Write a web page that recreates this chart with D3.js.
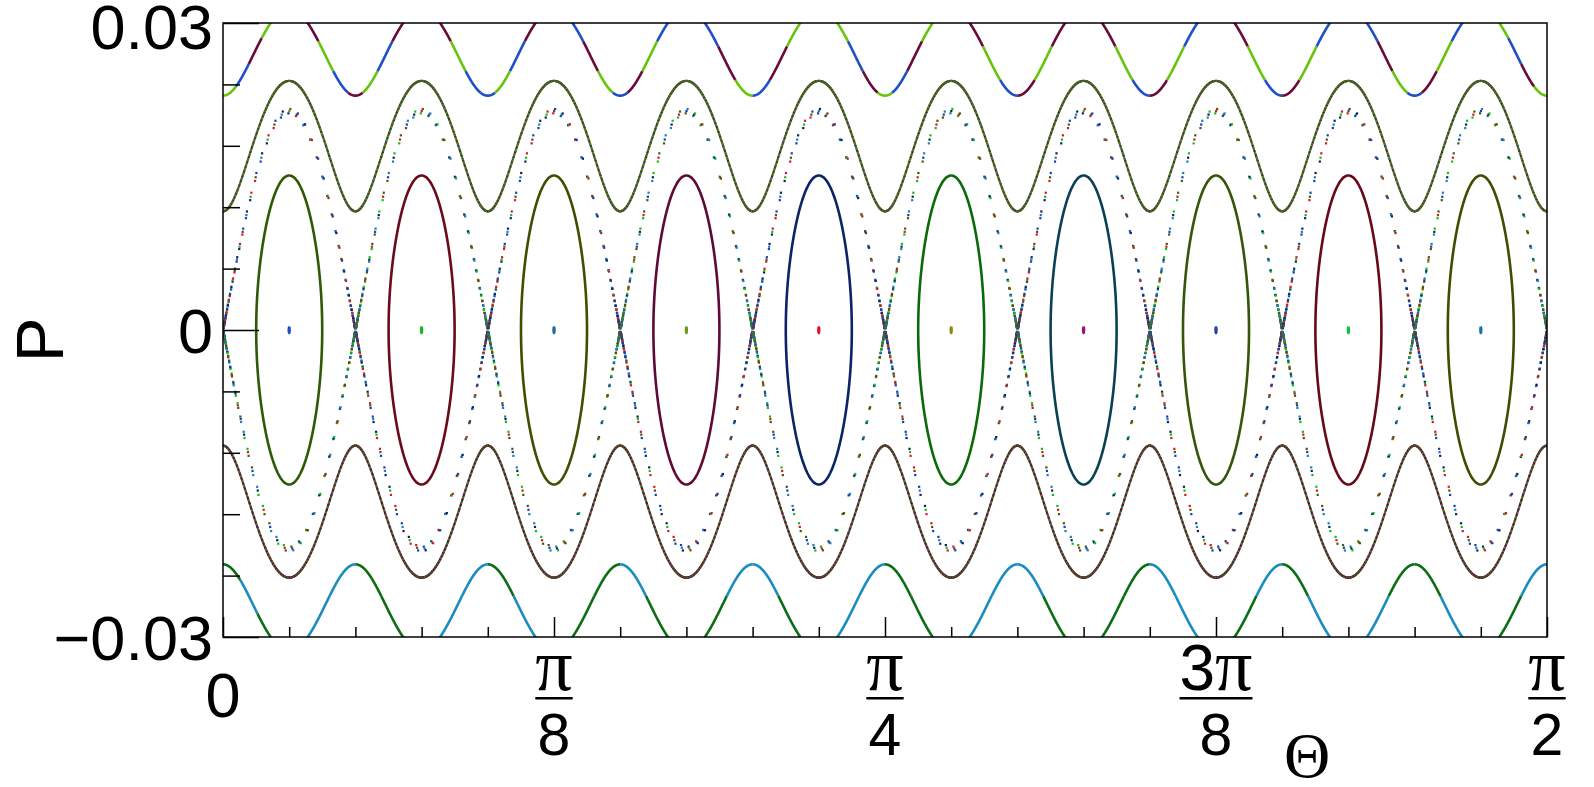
<!DOCTYPE html>
<html>
<head>
<meta charset="utf-8">
<script src="https://cdn.jsdelivr.net/npm/d3@7"></script>
<style>
  html, body { margin: 0; padding: 0; background: #fff; }
  svg { display: block; }
  text { font-family: "Liberation Sans", Arial, sans-serif; fill: #000; }
  .sym { font-family: "Liberation Serif", "DejaVu Serif", serif; }
</style>
</head>
<body>
<svg id="chart"></svg>
<script>
// values
var thetaDomain = [0, Math.PI / 2];
var pDomain = [-0.03, 0.03];
var yTickValues = [-0.03, 0, 0.03];
var xTickValues = [0, Math.PI / 8, Math.PI / 4, 3 * Math.PI / 8, Math.PI / 2];
var xTickNumerators = ['0', 'π', 'π', '3π', 'π'];
var xTickDenominators = ['', '8', '4', '8', '2'];

// island centres in units of pi/40 (O-points), X-points sit halfway between
var islandCentres = [1, 3, 5, 7, 9, 11, 13, 15, 17, 19];
var ellipseColors = ['#2f5a05', '#6a0a1a', '#3d5000', '#5e0a35', '#0a2565',
                     '#0a6a0a', '#0a4055', '#35560a', '#680818', '#3f4d00'];
var centreColors = ['#1a50c0', '#20b020', '#1a6aa0', '#6a9a20', '#e01030',
                    '#8a8a10', '#a01070', '#2040b0', '#10c040', '#1a70b0'];

var separatrixAmp = 0.0214;   // P of the separatrix above an O-point
var ellipseAmp = 0.0151;      // P at the top of the closed orbits
var centreAmp = 0.0003;       // tiny orbits at the centres

// rotating orbits, given by P where they cross an X-point
var outerLevel = 0.0229;
var innerLevelTop = 0.0116;
var innerLevelBottom = -0.0113;

var topPalette = { b: '#1f4fc8', m: '#6a0a3a', l: '#66c40a' };
var topArcColors = [
  ['l', 'b', 'm', 'l'],
  ['m', 'l', 'b', 'm', 'l', 'b', 'm'],
  ['m', 'l', 'b', 'b', 'l', 'b', 'm'],
  ['b', 'm', 'l', 'b', 'm', 'l', 'b'],
  ['b', 'm', 'l', 'b', 'm', 'l'],
  ['l', 'b', 'm', 'l', 'b', 'm', 'l'],
  ['m', 'l', 'b', 'm', 'l', 'm'],
  ['m', 'l', 'b', 'm', 'l', 'b'],
  ['m', 'l', 'b', 'm', 'l', 'b'],
  ['b', 'm', 'l', 'b', 'm', 'l', 'b'],
  ['l', 'b', 'm', 'l']
];

var bottomPalette = { g: '#0b6e14', t: '#1a8cc0' };
var bottomArcColors = [
  ['g', 't', 'g'],
  ['t', 't', 'g', 'g'],
  ['t', 't', 'g', 't'],
  ['g', 'g', 't', 'g'],
  ['g', 't', 't', 'g'],
  ['t', 't', 'g', 'g'],
  ['t', 't', 't', 'g'],
  ['g', 'g', 't', 't'],
  ['g', 't', 'g', 't'],
  ['t', 'g', 'g', 't'],
  ['g', 't']
];

var innerTopColors = ['#4a5500', '#1a88b0', '#5a1020', '#2e5e00', '#8a8a00'];
var innerBottomColors = ['#6a0030', '#c01070', '#3c9a00', '#2a5a00', '#1a3a60'];
var separatrixColors = ['#102060', '#10c010', '#e01030', '#4a5a00', '#1040c0', '#1a80b0'];

var width = 1594;
var height = 787;
var plot = { left: 223, right: 1547, top: 23, bottom: 637 };

var svg = d3.select('#chart').attr('width', width).attr('height', height);

var x = d3.scaleLinear().domain(thetaDomain).range([plot.left, plot.right]);
var y = d3.scaleLinear().domain(pDomain).range([plot.bottom, plot.top]);

svg.append('clipPath').attr('id', 'frame-clip')
  .append('rect')
  .attr('x', plot.left).attr('y', plot.top)
  .attr('width', plot.right - plot.left).attr('height', plot.bottom - plot.top);

var marks = svg.append('g').attr('clip-path', 'url(#frame-clip)');

// pendulum angle phi = 40 theta - pi
var thetaOf = function(phi) { return (phi + Math.PI) / 40; };
var phiMin = -Math.PI;
var phiMax = 19 * Math.PI;

var rotatingP = function(level, phi) {
  var c = Math.cos(phi / 2);
  var p = Math.sqrt(level * level + separatrixAmp * separatrixAmp * c * c);
  return level < 0 ? -p : p;
};

var line = d3.line().x(function(d) { return x(d[0]); }).y(function(d) { return y(d[1]); });

// closed orbits around each O-point
var closedOrbit = function(centre, amp, n) {
  var k = amp / separatrixAmp;
  var phiC = (centre - 1) * Math.PI;
  return d3.range(n + 1).map(function(i) {
    var psi = 2 * Math.PI * i / n;
    var phi = phiC + 2 * Math.asin(k * Math.sin(psi));
    return [thetaOf(phi), separatrixAmp * k * Math.cos(psi)];
  });
};

marks.selectAll('path.ellipse')
  .data(islandCentres)
  .enter().append('path')
  .attr('class', 'ellipse')
  .attr('d', function(c) { return line(closedOrbit(c, ellipseAmp, 240)); })
  .attr('fill', 'none')
  .attr('stroke', function(c, i) { return ellipseColors[i]; })
  .attr('stroke-width', 2.6);

// separatrix, sampled evenly in time so dots bunch up near X-points
var sepDots = [];
var dt = 0.18;
var offsets = [-0.02, 0, 0.025];
islandCentres.forEach(function(c, ci) {
  var phiC = (c - 1) * Math.PI;
  [1, -1].forEach(function(sign, si) {
    for (var k = -30; k <= 30; k++) {
      offsets.forEach(function(o, oi) {
        var t = k * dt + o + (si ? 0.07 : 0);
        var phi = phiC + 4 * Math.atan(Math.exp(t)) - Math.PI;
        var p = sign * separatrixAmp / Math.cosh(t) * (1 + (oi - 1) * 0.01);
        sepDots.push({ theta: thetaOf(phi), p: p, color: separatrixColors[(k * 2 + oi + ci + si * 3 + 60) % separatrixColors.length] });
      });
    }
  });
});

marks.selectAll('rect.sep')
  .data(sepDots)
  .enter().append('rect')
  .attr('class', 'sep')
  .attr('x', function(d) { return x(d.theta) - 1; })
  .attr('y', function(d) { return y(d.p) - 1; })
  .attr('width', 2.2).attr('height', 2.2)
  .attr('fill', function(d) { return d.color; });

// rotating orbits just outside the separatrix
var innerDots = function(level, colors, n) {
  return d3.range(n + 1).map(function(i) {
    var phi = phiMin + (phiMax - phiMin) * i / n;
    return { theta: thetaOf(phi), p: rotatingP(level, phi), color: colors[i % colors.length] };
  });
};

var rotDots = innerDots(innerLevelTop, innerTopColors, 4200)
  .concat(innerDots(innerLevelBottom, innerBottomColors, 4200));

marks.selectAll('rect.rot')
  .data(rotDots)
  .enter().append('rect')
  .attr('class', 'rot')
  .attr('x', function(d) { return x(d.theta) - 1; })
  .attr('y', function(d) { return y(d.p) - 1; })
  .attr('width', 2).attr('height', 2)
  .attr('fill', function(d) { return d.color; });

// outer rotating orbits, drawn arc by arc around each X-point
var outerSegments = function(level, arcColors, palette) {
  var segs = [];
  arcColors.forEach(function(colors, j) {
    var phiX = -Math.PI + 2 * Math.PI * j;
    var pts = [];
    for (var i = 0; i <= 400; i++) {
      var phi = phiX - Math.PI + 2 * Math.PI * i / 400;
      if (phi < phiMin || phi > phiMax) continue;
      var p = rotatingP(level, phi);
      if (Math.abs(p) > 0.0305) continue;
      pts.push([thetaOf(phi), p]);
    }
    var n = colors.length;
    colors.forEach(function(key, ci) {
      var a = Math.floor(pts.length * ci / n);
      var b = Math.min(pts.length - 1, Math.floor(pts.length * (ci + 1) / n));
      segs.push({ points: pts.slice(a, b + 1), color: palette[key] });
    });
  });
  return segs;
};

var outerSegs = outerSegments(outerLevel, topArcColors, topPalette)
  .concat(outerSegments(-outerLevel, bottomArcColors, bottomPalette));

marks.selectAll('path.outer')
  .data(outerSegs)
  .enter().append('path')
  .attr('class', 'outer')
  .attr('d', function(d) { return line(d.points); })
  .attr('fill', 'none')
  .attr('stroke', function(d) { return d.color; })
  .attr('stroke-width', 2.6);

// tiny orbits at the centres
marks.selectAll('path.centre')
  .data(islandCentres)
  .enter().append('path')
  .attr('class', 'centre')
  .attr('d', function(c) { return line(closedOrbit(c, centreAmp, 24)); })
  .attr('fill', 'none')
  .attr('stroke', function(c, i) { return centreColors[i]; })
  .attr('stroke-width', 2.2);

// frame
svg.append('rect')
  .attr('x', plot.left).attr('y', plot.top)
  .attr('width', plot.right - plot.left).attr('height', plot.bottom - plot.top)
  .attr('fill', 'none').attr('stroke', '#000').attr('stroke-width', 1.5);

// y axis: minor ticks every 0.006, labelled major ticks
var yMinor = d3.range(-4, 5).map(function(i) { return i * 0.006; }).filter(function(v) { return Math.abs(v) > 1e-9; });

svg.append('g')
  .attr('transform', 'translate(' + plot.left + ',0)')
  .call(d3.axisLeft(y).tickValues(yMinor).tickSize(-17).tickFormat(''))
  .call(function(g) { g.select('.domain').remove(); g.selectAll('line').attr('stroke-width', 1.5); });

var yAxis = svg.append('g')
  .attr('transform', 'translate(' + plot.left + ',0)')
  .call(d3.axisLeft(y).tickValues(yTickValues).tickSize(-36).tickPadding(10)
    .tickFormat(function(v) { return v === 0 ? '0' : d3.format('.2f')(v).replace('-', '\u2212'); }));
yAxis.select('.domain').remove();
yAxis.selectAll('line').attr('stroke-width', 1.5);
yAxis.selectAll('text')
  .attr('font-family', '"Liberation Sans", Arial, sans-serif')
  .attr('font-size', 63)
  .attr('dy', function(v) { return v > 0 ? '0.4em' : '0.36em'; })
  .attr('fill', '#000');

// x axis: minor ticks every pi/40
var xMinor = d3.range(1, 20).filter(function(i) { return i % 5 !== 0; }).map(function(i) { return i * Math.PI / 40; });

svg.append('g')
  .attr('transform', 'translate(0,' + plot.bottom + ')')
  .call(d3.axisBottom(x).tickValues(xMinor).tickSize(-10).tickFormat(''))
  .call(function(g) { g.select('.domain').remove(); g.selectAll('line').attr('stroke-width', 1.5); });

svg.append('g')
  .attr('transform', 'translate(0,' + plot.bottom + ')')
  .call(d3.axisBottom(x).tickValues(xTickValues).tickSize(-20).tickFormat(''))
  .call(function(g) { g.select('.domain').remove(); g.selectAll('line').attr('stroke-width', 1.5); });

// x tick labels as stacked fractions
xTickValues.forEach(function(v, i) {
  var cx = x(v);
  var g = svg.append('g').attr('class', 'xlabel');
  if (!xTickDenominators[i]) {
    g.append('text').attr('x', cx).attr('y', 717)
      .attr('text-anchor', 'middle').attr('font-size', 63)
      .text(xTickNumerators[i]);
    return;
  }
  var num = g.append('text').attr('x', cx).attr('y', 690).attr('text-anchor', 'middle');
  xTickNumerators[i].split('').forEach(function(ch) {
    if (ch === 'π') {
      num.append('tspan').attr('class', 'sym').attr('font-size', 74).text(ch);
    } else {
      num.append('tspan').attr('font-size', 64).text(ch);
    }
  });
  var den = g.append('text').attr('x', cx).attr('y', 755)
    .attr('text-anchor', 'middle').attr('font-size', 59)
    .text(xTickDenominators[i]);
  var w = Math.max(num.node().getBBox().width, den.node().getBBox().width);
  g.append('rect')
    .attr('x', cx - w / 2).attr('y', 697)
    .attr('width', w).attr('height', 2.5)
    .attr('fill', '#000');
});

// axis titles
svg.append('text')
  .attr('class', 'sym')
  .attr('x', 1307).attr('y', 777)
  .attr('text-anchor', 'middle')
  .attr('font-size', 64)
  .text('Θ');

svg.append('text')
  .attr('transform', 'translate(63,340) rotate(-90)')
  .attr('text-anchor', 'middle')
  .attr('font-size', 67)
  .text('P');
</script>
</body>
</html>
